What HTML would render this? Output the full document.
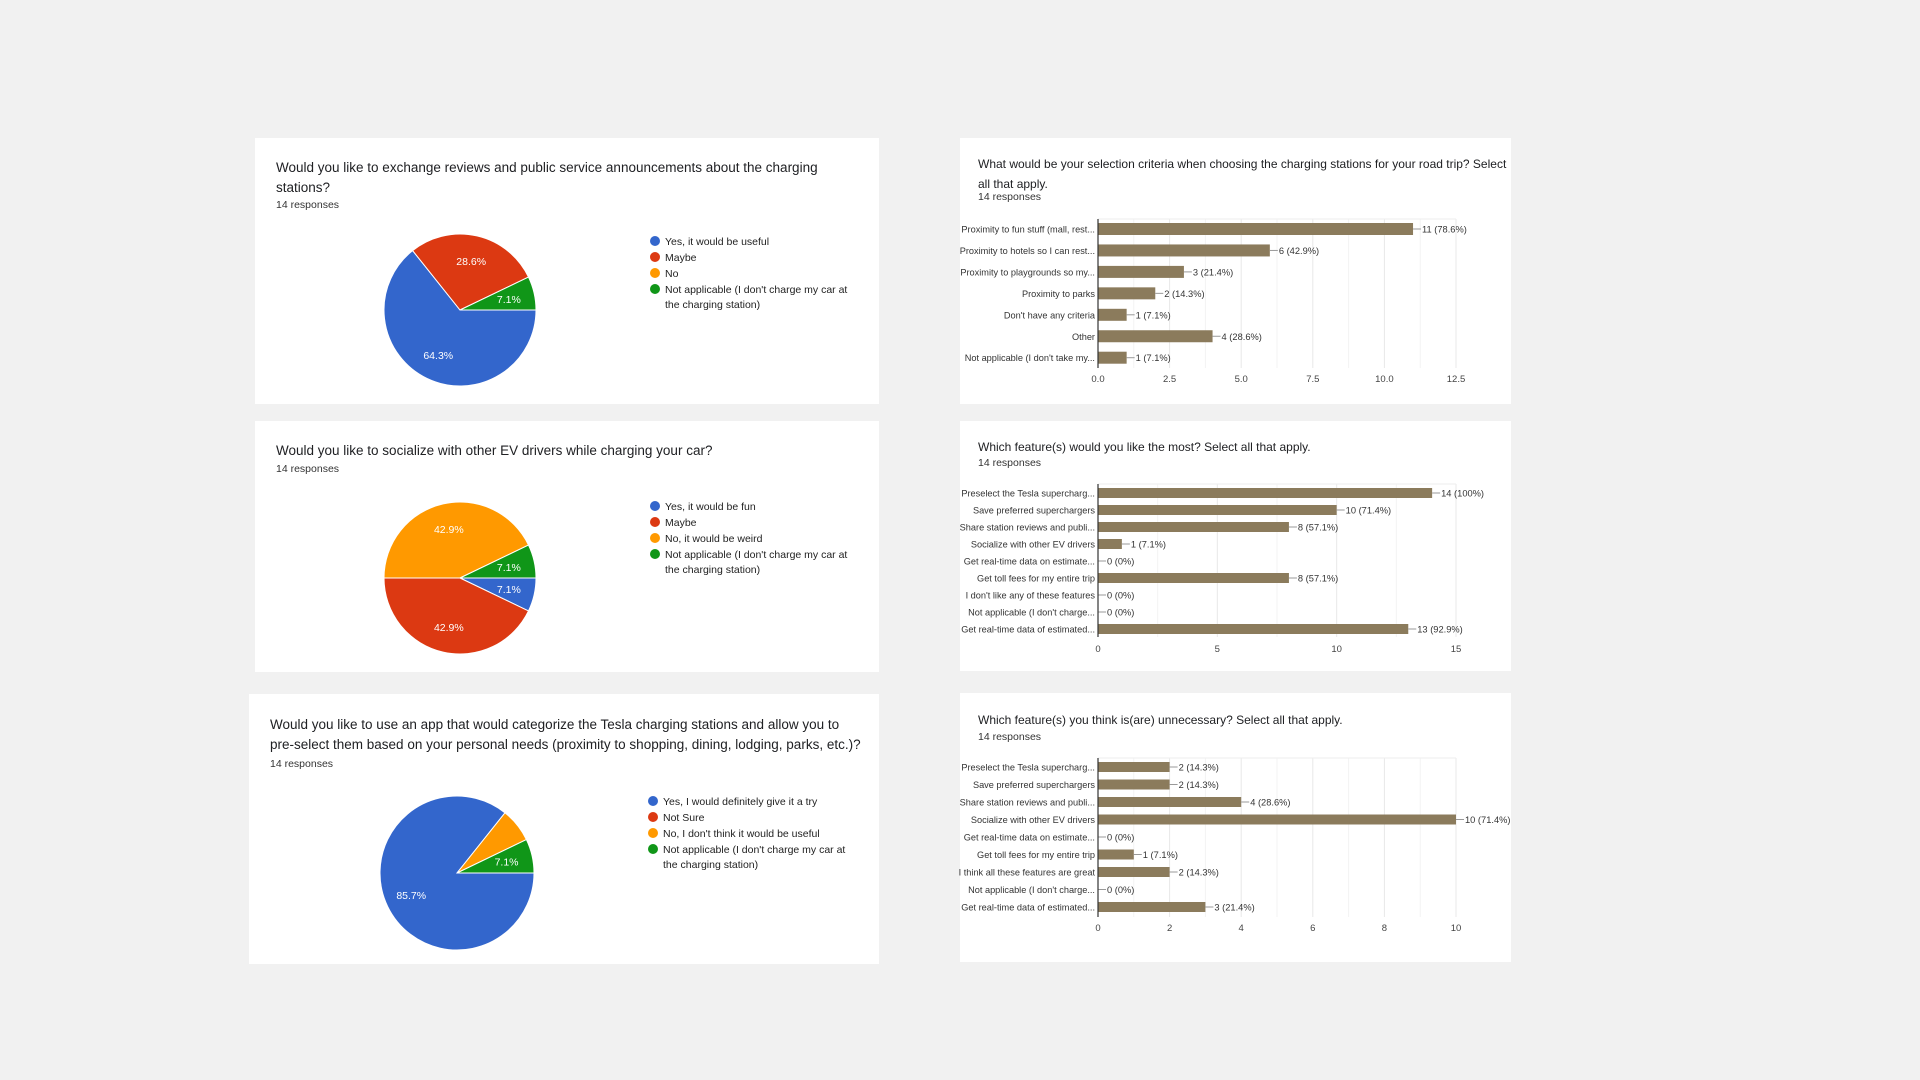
<!DOCTYPE html>
<html><head><meta charset="utf-8">
<style>
html,body{margin:0;padding:0;background:#f1f1f1;width:1920px;height:1080px;overflow:hidden;font-family:"Liberation Sans",Arial,sans-serif;}
.card{position:absolute;background:#fff;}
svg{position:absolute;left:0;top:0;}
</style></head><body>
<div class="card" style="left:255px;top:138px;width:624px;height:266px"></div>
<div class="card" style="left:255px;top:421px;width:624px;height:251px"></div>
<div class="card" style="left:249px;top:694px;width:630px;height:270px"></div>
<div class="card" style="left:960px;top:138px;width:551px;height:266px"></div>
<div class="card" style="left:960px;top:421px;width:551px;height:250px"></div>
<div class="card" style="left:960px;top:693px;width:551px;height:269px"></div>
<svg id="s" width="1920" height="1080"></svg>
<script>
// Pie data
const pie1Labels=["Yes, it would be useful","Maybe","No","Not applicable (I don't charge my car at|the charging station)"];
const pie1Values=[9,4,0,1];
const pie2Labels=["Yes, it would be fun","Maybe","No, it would be weird","Not applicable (I don't charge my car at|the charging station)"];
const pie2Values=[1,6,6,1];
const pie3Labels=["Yes, I would definitely give it a try","Not Sure","No, I don't think it would be useful","Not applicable (I don't charge my car at|the charging station)"];
const pie3Values=[12,0,1,1];
const pie3HideLabel=[false,false,true,false];
// Bar data
const bar1Cats=["Proximity to fun stuff (mall, rest...","Proximity to hotels so I can rest...","Proximity to playgrounds so my...","Proximity to parks","Don't have any criteria","Other","Not applicable (I don't take my..."];
const bar1Values=[11,6,3,2,1,4,1];
const bar1Ticks=["0.0","2.5","5.0","7.5","10.0","12.5"];
const bar2Cats=["Preselect the Tesla supercharg...","Save preferred superchargers","Share station reviews and publi...","Socialize with other EV drivers","Get real-time data on estimate...","Get toll fees for my entire trip","I don't like any of these features","Not applicable (I don't charge...","Get real-time data of estimated..."];
const bar2Values=[14,10,8,1,0,8,0,0,13];
const bar2Ticks=["0","5","10","15"];
const bar3Cats=["Preselect the Tesla supercharg...","Save preferred superchargers","Share station reviews and publi...","Socialize with other EV drivers","Get real-time data on estimate...","Get toll fees for my entire trip","I think all these features are great","Not applicable (I don't charge...","Get real-time data of estimated..."];
const bar3Values=[2,2,4,10,0,1,2,0,3];
const bar3Ticks=["0","2","4","6","8","10"];
const RESP=14;
const COLORS=["#3366cc","#dc3912","#ff9900","#109618"];
const NS="http://www.w3.org/2000/svg";
const S=document.getElementById('s');
function mk(tag,attrs,parent){const e=document.createElementNS(NS,tag);for(const k in attrs)e.setAttribute(k,attrs[k]);(parent||S).appendChild(e);return e;}
function txt(x,y,str,size,fill,anchor){const t=mk('text',{x:x,y:y,'font-size':size,fill:fill||'#212121','text-anchor':anchor||'start','font-family':'Liberation Sans, Arial, sans-serif'});t.textContent=str;return t;}
function header(x,y,lines,respY,size){
  lines.forEach((l,i)=>{const t=txt(x,y+i*20,l,size||13.5,'#202124');
  
  });
  const r=txt(x,respY,'14 responses',10.5,'#333');
  
  
}
function pie(cx,cy,R,values,labels,lx,ly,name,hide){
  const g=mk('g',{});
  
  
  const tot=values.reduce((a,b)=>a+b,0);
  let a=Math.PI/2;
  values.forEach((v,i)=>{
    if(v<=0)return;
    const da=v/tot*2*Math.PI;
    const a2=a+da;
    const x1=cx+R*Math.sin(a),y1=cy-R*Math.cos(a),x2=cx+R*Math.sin(a2),y2=cy-R*Math.cos(a2);
    const p=mk('path',{d:`M${cx},${cy}L${x1},${y1}A${R},${R} 0 ${da>Math.PI?1:0} 1 ${x2},${y2}Z`,fill:COLORS[i],stroke:'#fff','stroke-width':1},g);
    
    
    if(!(hide&&hide[i])){
      const m=(a+a2)/2,rr=R*0.66;
      const t=txt(cx+rr*Math.sin(m),cy-rr*Math.cos(m)+4,(v/tot*100).toFixed(1)+'%',10.5,'#fff','middle');
      
      
    }
    a=a2;
  });
  let y=ly;
  labels.forEach((l,i)=>{
    const c=mk('circle',{cx:lx,cy:y-4,r:5,fill:COLORS[i]});
    
    
    l.split('|').forEach((part,j)=>{
      const t=txt(lx+10,y+j*15,part,10.5,'#222');
      
      
    });
    y+=16*l.split('|').length-(l.includes('|')?1:0);
  });
}
function bars(x0,x1,maxV,ticks,cats,vals,y0,step,bh,gTop,gBot,tickY,name){
  const g=mk('g',{});
  
  
  const X=v=>x0+(x1-x0)*v/maxV;
  const n=ticks.length;
  for(let i=0;i<n-1;i++){const v=maxV*(i+0.5)/(n-1);
    const l=mk('line',{x1:X(v),x2:X(v),y1:gTop,y2:gBot,stroke:'#f3f3f3'},g);
    
    }
  ticks.forEach((t,i)=>{
    const v=maxV*i/(n-1);
    if(i>0){const l=mk('line',{x1:X(v),x2:X(v),y1:gTop,y2:gBot,stroke:'#e8e8e8'},g);
    
    }
    const tt=txt(X(v),tickY,t,9.5,'#444','middle');
    
    
  });
  const top=mk('line',{x1:x0,x2:x1,y1:gTop,y2:gTop,stroke:'#eee'},g);
  
  
  cats.forEach((c,i)=>{
    const cy=y0+i*step;
    const v=vals[i];
    const r=mk('rect',{x:x0,y:cy-bh/2,width:Math.max(0,X(v)-x0),height:bh,fill:'#8b7b5c'},g);
    
    
    const lab=txt(x0-3,cy+3.5,c,9.2,'#333','end');
    
    
    const ex=X(v);
    const ln=mk('line',{x1:ex,x2:ex+8,y1:cy,y2:cy,stroke:'#999'},g);
    
    
    const pct=(v/RESP*100);
    const ps=(Math.round(pct*10)/10)%1===0?Math.round(pct)+'%':pct.toFixed(1)+'%';
    const vt=txt(ex+9,cy+3.5,v+' ('+ps+')',9.3,'#333');
    
    
  });
  const ax=mk('line',{x1:x0,x2:x0,y1:gTop,y2:gBot,stroke:'#333','stroke-width':1.2},g);
  
  
}
header(276,172,["Would you like to exchange reviews and public service announcements about the charging","stations?"],208);
pie(460,310,76,pie1Values,pie1Labels,655,245,'pie-reviews');
header(276,455,["Would you like to socialize with other EV drivers while charging your car?"],472);
pie(460,578,76,pie2Values,pie2Labels,655,510,'pie-socialize');
header(270,729,["Would you like to use an app that would categorize the Tesla charging stations and allow you to","pre-select them based on your personal needs (proximity to shopping, dining, lodging, parks, etc.)?"],767);
pie(457,873,77,pie3Values,pie3Labels,653,805,'pie-app',pie3HideLabel);
header(978,168,["What would be your selection criteria when choosing the charging stations for your road trip? Select","all that apply."],200,12);
bars(1098,1456,12.5,bar1Ticks,bar1Cats,bar1Values,229,21.45,12,219,368,382,'bar-chart-criteria');
header(978,451,["Which feature(s) would you like the most? Select all that apply."],466,12);
bars(1098,1456,15,bar2Ticks,bar2Cats,bar2Values,493,17,10,484,637,652,'bar-chart-features');
header(978,724,["Which feature(s) you think is(are) unnecessary? Select all that apply."],740,12);
bars(1098,1456,10,bar3Ticks,bar3Cats,bar3Values,767,17.5,10,758,917,931,'bar-chart-unnecessary');
</script>
</body></html>
